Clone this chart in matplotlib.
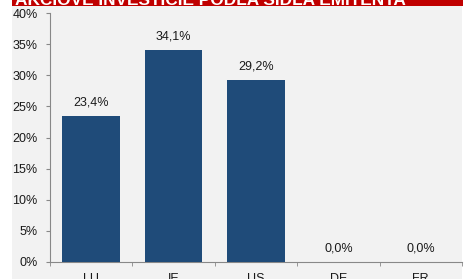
import matplotlib
matplotlib.use("Agg")
import matplotlib.pyplot as plt
from matplotlib.patches import Rectangle

plt.rcParams["font.family"] = ["Liberation Sans", "DejaVu Sans"]

countries = ["LU", "IE", "US", "DE", "FR"]
shares = [23.4, 34.1, 29.2, 0.0, 0.0]
yticks = [0, 5, 10, 15, 20, 25, 30, 35, 40]
title = "AKCIOVÉ INVESTÍCIE PODĽA SÍDLA EMITENTA"

W, H = 468, 279
fig = plt.figure(figsize=(W / 100, H / 100), dpi=100)
fig.patch.set_facecolor("white")

# gray panel and red header band
fig.add_artist(Rectangle((12 / W, 0), 450 / W, 1, transform=fig.transFigure,
                         facecolor="#f2f2f2", edgecolor="none", zorder=0))
fig.add_artist(Rectangle((12 / W, 1 - 6 / H), 451 / W, 6 / H, transform=fig.transFigure,
                         facecolor="#c00000", edgecolor="none", zorder=1))
fig.text(15 / W, 1 - 5 / H, title, color="white", fontweight="bold", fontsize=12.4,
         va="baseline", ha="left", zorder=2)

ax = fig.add_axes([50 / W, (H - 262) / H, 412 / W, 249 / H])
ax.set_facecolor("none")

x = range(len(countries))
bars = ax.bar(x, shares, width=0.7, color="#1f4b79", zorder=3)
for i, v in enumerate(shares):
    ax.text(i, v + 1.2, f"{v:.1f}%".replace(".", ","), ha="center", va="bottom",
            fontsize=9, color="#1a1a1a")

ax.set_xlim(-0.5, len(countries) - 0.5)
ax.set_ylim(0, 40)
ax.set_yticks(yticks)
ax.set_yticklabels([f"{t}%" for t in yticks], fontsize=9, color="#1a1a1a")
ax.set_xticks(list(x))
ax.set_xticklabels(countries, fontsize=9, color="#1a1a1a")
ax.set_xticks([i - 0.5 for i in range(len(countries) + 1)], minor=True)
ax.tick_params(axis="x", which="major", length=0, pad=8)
ax.tick_params(axis="x", which="minor", length=3, color="#888888")
ax.tick_params(axis="y", length=3, color="#888888", pad=6)

for s in ["top", "right"]:
    ax.spines[s].set_visible(False)
for s in ["left", "bottom"]:
    ax.spines[s].set_color("#888888")
    ax.spines[s].set_linewidth(0.8)

fig.savefig("out.png", dpi=100)
